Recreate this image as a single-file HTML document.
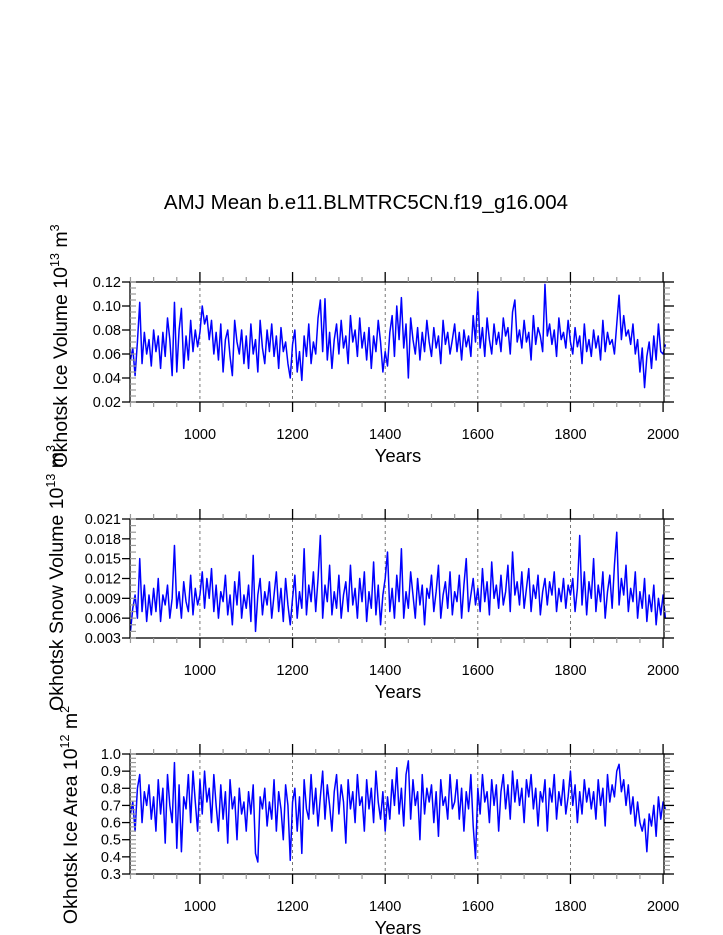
<!DOCTYPE html>
<html><head><meta charset="utf-8"><style>
html,body{margin:0;padding:0;background:#fff}
svg{display:block;font-family:"Liberation Sans",sans-serif}
</style></head><body>
<svg id="fig" width="723" height="935" viewBox="0 0 723 935" xmlns="http://www.w3.org/2000/svg">
<text x="366" y="209" font-size="20.5" text-anchor="middle">AMJ Mean b.e11.BLMTRC5CN.f19_g16.004</text>
</svg>
<script>
// years start 850, step 5
const startYear = 850;
const yearStep = 5;
const xTicks = [1000, 1200, 1400, 1600, 1800, 2000];
// Ice volume (units 0.001 x 10^13 m^3)
const iceVolume = [55,65,42,70,103,52,78,60,72,50, 80,62,75,48,78,58,90,72,42,103, 45,80,98,48,75,55,88,62,80,66,
 78,100,85,92,72,88,60,78,55,85, 45,72,80,58,42,88,70,60,80,52, 75,48,85,60,72,45,88,65,52,80,
 62,85,58,75,48,82,62,70,52,40, 68,80,45,62,38,75,58,85,52,70, 60,90,105,62,106,55,78,48,72,85,
 60,88,65,75,52,92,70,80,58,90, 65,78,55,82,48,75,62,88,70,45, 62,50,78,92,58,100,72,107,65,85,
 40,90,72,60,82,55,78,62,88,70, 58,82,65,75,52,88,68,78,60,72, 85,62,78,55,80,66,75,58,92,70,
 112,65,82,58,90,72,60,85,68,78, 62,90,75,82,60,95,105,70,80,65, 88,70,78,55,92,68,82,75,62,118,
 75,85,68,80,58,90,72,78,65,88, 70,60,82,66,75,52,85,62,72,58, 80,65,75,55,88,62,78,68,72,60,
 85,109,72,92,75,80,68,85,60,72, 45,65,32,58,70,48,75,55,85,62, 60,68];
const iceVolTicks = ["0.02","0.04","0.06","0.08","0.10","0.12"];
// Snow volume (units 0.0001 x 10^13 m^3)
const snowVolume = [40,75,95,60,150,70,110,55,95,65, 105,70,120,55,95,80,110,60,90,170, 75,100,60,115,85,70,125,65,105,80,
 95,130,75,120,90,135,70,110,60,100, 85,125,65,95,50,115,80,130,60,95, 75,110,55,155,40,95,120,65,100,80,
 115,60,95,130,70,105,55,120,80,50, 90,125,60,100,75,165,65,110,85,130, 70,120,185,60,110,85,140,65,100,75,
 125,60,95,115,70,140,80,105,60,120, 85,130,55,100,75,145,65,110,50,95, 120,160,70,105,60,125,85,165,60,100,
 75,130,95,60,120,80,110,50,105,90, 125,70,100,140,60,95,115,75,130,65, 100,85,125,60,110,150,70,95,120,80,
 105,70,135,85,115,65,145,90,110,75, 125,80,100,140,70,160,95,115,80,130, 75,105,135,70,110,90,125,65,100,120,
 80,115,95,130,70,105,85,120,75,110, 95,120,70,105,185,80,130,65,115,90, 150,70,110,85,130,60,100,125,75,140,
 190,80,120,95,140,70,105,85,130,60, 100,75,120,55,95,70,110,50,90,65, 95,60];
const snowVolTicks = ["0.003","0.006","0.009","0.012","0.015","0.018","0.021"];
// Ice area (units 0.01 x 10^12 m^2)
const iceArea = [65,72,55,80,88,60,78,70,82,62, 75,55,85,65,80,48,88,70,60,95, 45,82,43,75,68,88,60,90,72,55,
 85,65,90,72,80,60,88,70,55,82, 62,78,48,85,68,75,50,80,65,72, 55,78,65,82,42,37,75,68,80,58,
 72,62,85,55,78,68,50,82,70,38, 72,80,55,75,42,85,68,62,88,65, 80,58,75,90,62,82,70,55,78,88,
 65,82,72,48,85,68,78,60,88,70, 75,55,85,68,80,60,90,72,62,78, 55,75,62,85,70,92,65,80,58,88,
 96,62,85,70,78,50,88,65,80,72, 82,60,78,52,85,70,75,62,88,68, 72,85,62,80,55,78,68,88,58,39,
 80,65,88,72,78,60,85,70,82,55, 78,88,68,82,62,90,72,85,70,80, 60,85,75,88,68,80,58,78,72,85,
 55,80,72,88,62,78,70,85,65,75, 90,70,82,60,78,65,85,72,80,68, 78,62,85,70,80,58,88,72,82,75,
 90,94,78,85,70,82,65,75,58,72, 60,55,62,43,65,58,70,52,75,62, 72,68];
const iceAreaTicks = ["0.3","0.4","0.5","0.6","0.7","0.8","0.9","1.0"];

const NS="http://www.w3.org/2000/svg";
const svg=document.getElementById('fig');
const L=130,R=664,X0=849,X1=2002;
const xs=v=>L+(v-X0)/(X1-X0)*(R-L);
function mk(tag,attrs,parent){const e=document.createElementNS(NS,tag);for(const k in attrs)e.setAttribute(k,attrs[k]);(parent||svg).appendChild(e);return e;}

function panel(key,top,bot,data,ymin,ymax,ticks,minorStep,labelParts,labelX,labelY){
  const g=mk('g',{});
  
  
  const ys=v=>bot-(v-ymin)/(ymax-ymin)*(bot-top);
  xTicks.forEach(t=>{if(t<2000){const l=mk('line',{x1:xs(t),x2:xs(t),y1:top,y2:bot,stroke:'#555','stroke-width':0.8,'stroke-dasharray':'3,3'},g);
    
    }});
  const pts=data.map((v,i)=>xs(startYear+i*yearStep).toFixed(2)+','+ys(v).toFixed(2)).join(' ');
  const pl=mk('polyline',{points:pts,fill:'none',stroke:'#0000ff','stroke-width':1.5,'stroke-linejoin':'round'},g);
  
  
  const fr=mk('rect',{x:L,y:top,width:R-L,height:bot-top,fill:'none',stroke:'#000','stroke-width':1.3},g);
  
  
  for(let t=850;t<=2000;t+=50){const major=t%200===0;const len=major?10:5;
    mk('line',{x1:xs(t),x2:xs(t),y1:bot,y2:bot+len,stroke:major?'#000':'#999','stroke-width':major?1.3:1.2},g);
    mk('line',{x1:xs(t),x2:xs(t),y1:top,y2:top-len,stroke:major?'#000':'#999','stroke-width':major?1.3:1.2},g);}
  xTicks.forEach(t=>{const tx=mk('text',{x:xs(t),y:bot+37,'font-size':14.5,'text-anchor':'middle'},g);tx.textContent=t;
    
    });
  const yt=mk('text',{x:398,y:bot+60,'font-size':18.5,'text-anchor':'middle'},g);yt.textContent='Years';
  
  
  for(let v=ymin;v<=ymax+1e-9;v+=minorStep){const y=ys(v);
    mk('line',{x1:L,x2:L+6,y1:y,y2:y,stroke:'#999','stroke-width':1.2},g);
    mk('line',{x1:R,x2:R+6,y1:y,y2:y,stroke:'#999','stroke-width':1.2},g);}
  ticks.forEach((t,i)=>{const v=ymin+i*(ymax-ymin)/(ticks.length-1);const y=ys(v);
    mk('line',{x1:L-8,x2:L,y1:y,y2:y,stroke:'#000','stroke-width':1.3},g);
    mk('line',{x1:R,x2:R+10,y1:y,y2:y,stroke:'#000','stroke-width':1.3},g);
    const tx=mk('text',{x:L-9,y:y+5,'font-size':14.5,'text-anchor':'end'},g);tx.textContent=t;
    
    });
  const lab=mk('text',{x:0,y:0,'font-size':19.5,'text-anchor':'middle',transform:`translate(${labelX},${labelY}) rotate(-90)`},g);
  
  
  labelParts.forEach(p=>{const ts=mk('tspan',p[1]?{'font-size':12.5,dy:-8}:{dy:p[2]||0},lab);ts.textContent=p[0];});
}
panel('ice-volume',282,402,iceVolume,20,120,iceVolTicks,5,
  [['Okhotsk Ice Volume 10'],['13',1],[' m',0,8],['3',1]],67,346);
panel('snow-volume',519,638,snowVolume,30,210,snowVolTicks,10,
  [['Okhotsk Snow Volume 10'],['13',1],[' m',0,8],['3',1]],63,578);
panel('ice-area',754,874,iceArea,30,100,iceAreaTicks,2.5,
  [['Okhotsk Ice Area 10'],['12',1],[' m',0,8],['2',1]],77,815);
</script>
</body></html>
